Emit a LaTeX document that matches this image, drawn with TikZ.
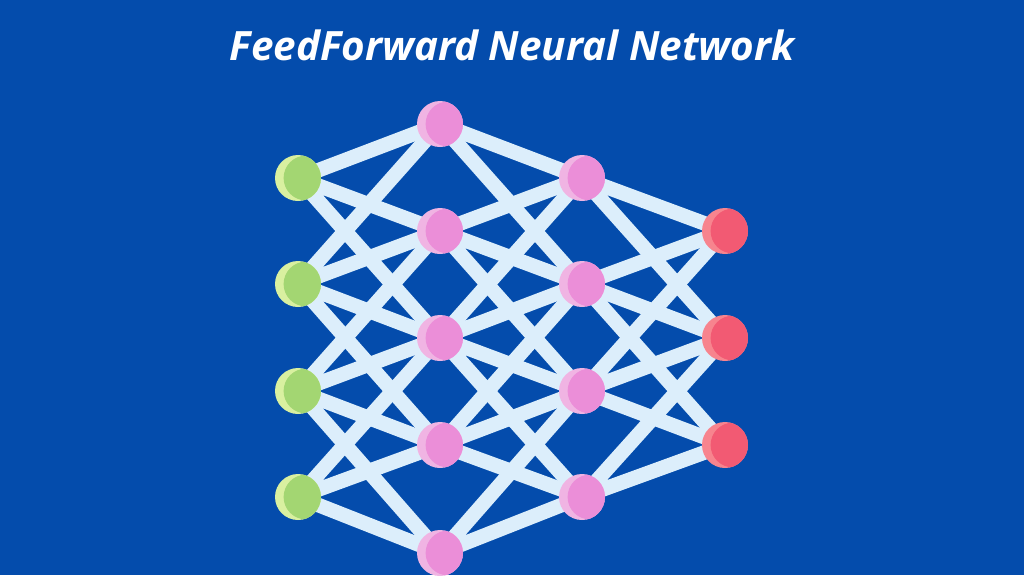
\documentclass[tikz,border=0pt]{standalone}
\usepackage{fontspec}
\usepackage{xcolor}
\usepackage{tikz}
\newfontfamily\titlefont{Open Sans}
\definecolor{bgblue}{HTML}{044CAC}
\definecolor{linkblue}{HTML}{DCEEFB}
\definecolor{ingreen}{HTML}{A3D672}
\definecolor{inlight}{HTML}{D9F0A0}
\definecolor{hidpink}{HTML}{EB8ED8}
\definecolor{hidlight}{HTML}{F0B4E3}
\definecolor{outred}{HTML}{F25A73}
\definecolor{outlight}{HTML}{F7848E}
\pgfdeclarelayer{back}
\pgfdeclarelayer{links}
\pgfsetlayers{back,links,main}
\tikzset{
	neuron/.style 2 args={circle, minimum size=23pt, inner sep=0pt, fill=#2,
		path picture={\fill[#1] ([xshift=4pt]path picture bounding box.center) circle (11.2pt);}},
	link/.style={linkblue, line width=7.3pt}
}

\begin{document}
\begin{tikzpicture}[x=0.5pt, y=-0.5pt]
			\begin{pgfonlayer}{back}
				\fill[bgblue] (0,0) rectangle (1024,575);
			\end{pgfonlayer}
			\useasboundingbox (0,0) rectangle (1024,575);
			
			% titolo
			\node[text=white, font=\titlefont\bfseries\itshape\fontsize{20.2}{24}\selectfont] (title) at (512,45) {FeedForward Neural Network};
			
			% input
			\node[neuron={ingreen}{inlight}] (i1) at (298,178) {};
			\node[neuron={ingreen}{inlight}] (i2) at (298,284) {};
			\node[neuron={ingreen}{inlight}] (i3) at (298,391) {};
			\node[neuron={ingreen}{inlight}] (i4) at (298,497) {};
			
			% hidden 1
			\node[neuron={hidpink}{hidlight}] (h1) at (440,124) {};
			\node[neuron={hidpink}{hidlight}] (h2) at (440,231) {};
			\node[neuron={hidpink}{hidlight}] (h3) at (440,338) {};
			\node[neuron={hidpink}{hidlight}] (h4) at (440,445) {};
			\node[neuron={hidpink}{hidlight}] (h5) at (440,553) {};
			
			% hidden 2
			\node[neuron={hidpink}{hidlight}] (k1) at (582,178) {};
			\node[neuron={hidpink}{hidlight}] (k2) at (582,284) {};
			\node[neuron={hidpink}{hidlight}] (k3) at (582,391) {};
			\node[neuron={hidpink}{hidlight}] (k4) at (582,497) {};
			
			% output
			\node[neuron={outred}{outlight}] (o1) at (725,231) {};
			\node[neuron={outred}{outlight}] (o2) at (725,338) {};
			\node[neuron={outred}{outlight}] (o3) at (725,445) {};
			
			\begin{pgfonlayer}{links}
				% input -> hidden 1
				\draw[link] (i1.center)--(h1.center) (i1.center)--(h2.center) (i1.center)--(h3.center);
				\draw[link] (i2.center)--(h1.center) (i2.center)--(h2.center) (i2.center)--(h3.center) (i2.center)--(h4.center);
				\draw[link] (i3.center)--(h2.center) (i3.center)--(h3.center) (i3.center)--(h4.center) (i3.center)--(h5.center);
				\draw[link] (i4.center)--(h3.center) (i4.center)--(h4.center) (i4.center)--(h5.center);
				
				% hidden 1 -> hidden 2
				\draw[link] (h1.center)--(k1.center) (h1.center)--(k2.center);
				\draw[link] (h2.center)--(k1.center) (h2.center)--(k2.center) (h2.center)--(k3.center);
				\draw[link] (h3.center)--(k1.center) (h3.center)--(k2.center) (h3.center)--(k3.center) (h3.center)--(k4.center);
				\draw[link] (h4.center)--(k2.center) (h4.center)--(k3.center) (h4.center)--(k4.center);
				\draw[link] (h5.center)--(k3.center) (h5.center)--(k4.center);
				
				% hidden 2 -> output
				\draw[link] (k1.center)--(o1.center) (k1.center)--(o2.center);
				\draw[link] (k2.center)--(o1.center) (k2.center)--(o2.center) (k2.center)--(o3.center);
				\draw[link] (k3.center)--(o1.center) (k3.center)--(o2.center) (k3.center)--(o3.center);
				\draw[link] (k4.center)--(o2.center) (k4.center)--(o3.center);
			\end{pgfonlayer}
		\end{tikzpicture}
\end{document}
